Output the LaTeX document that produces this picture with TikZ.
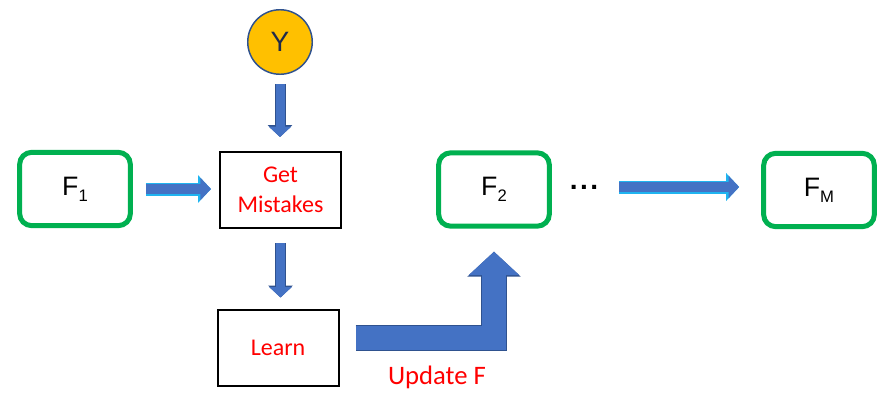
\documentclass[tikz,border=0pt]{standalone}
\usepackage{fontspec}
\setmainfont{Liberation Sans}
\newfontfamily\calibri{Carlito}
\usepackage{tikz}
\usetikzlibrary{positioning, calc, arrows.meta}

\definecolor{boxgreen}{HTML}{00B050}
\definecolor{mistred}{HTML}{FF0000}
\definecolor{flowblue}{HTML}{4472C4}
\definecolor{flowdark}{HTML}{2F528F}
\definecolor{flowcyan}{HTML}{1FB4F0}
\definecolor{ygold}{HTML}{FFC000}
\definecolor{ynavy}{HTML}{1F2A4A}

\newcommand{\modelsub}[1]{\raisebox{-4.5pt}{\fontsize{12.5}{14}\selectfont #1}}

\tikzset{
  modelbox/.style={draw=boxgreen, line width=3.75pt, rounded corners=9pt,
    minimum width=83pt, minimum height=55pt, font=\fontsize{20}{24}\selectfont},
  stepbox/.style={draw=black, line width=1.5pt, minimum width=90.75pt,
    minimum height=57pt, align=center, text=mistred,
    font=\calibri\fontsize{18}{22.5}\selectfont},
  target/.style={circle, fill=ygold, draw=flowdark, line width=1.1pt,
    minimum size=48.4pt, inner sep=0pt, text=ynavy, font=\fontsize{21}{25}\selectfont},
  sideflow/.style={draw=flowblue, line width=7pt, -{Triangle[width=16.5pt,length=8pt]},
    preaction={draw=flowcyan, line width=9.75pt, -{Triangle[width=20.25pt,length=9.75pt]}}},
  downflow/.style={draw=flowblue, line width=6.75pt, -{Triangle[width=16.5pt,length=7.75pt]},
    preaction={draw=flowdark, line width=8.25pt, -{Triangle[width=18pt,length=9pt]}}},
  bentflow/.style={draw=flowblue, line width=18pt, -{Triangle[width=36.75pt,length=17.5pt]},
    preaction={draw=flowdark, line width=19.5pt, -{Triangle[width=39pt,length=18.75pt]}}},
}

\begin{document}
\begin{tikzpicture}[x=0.75pt, y=-0.75pt]
    \useasboundingbox (0,0) rectangle (891,408);

    % models and steps
    \node[modelbox] (f1) at (75,189) {F\modelsub{1}};
    \node[stepbox] (gm) at (280.5,190) {Get\\Mistakes};
    \node[stepbox] (learn) at (278,347.5) {Learn};
    \node[target] (y) at (280,42) {Y};
    \node[modelbox] (f2) at (494,189.5) {F\modelsub{2}};
    \node[inner sep=0pt, font=\bfseries\fontsize{21}{25}\selectfont] (dots) at (584,187) {.\hspace{1.9pt}.\hspace{1.9pt}.};
    \node[modelbox] (fm) at (819,190) {F\modelsub{M}};
    \node[text=mistred, font=\calibri\fontsize{20}{24}\selectfont] (upd) at (437,377) {Update F};

    % block arrows
    \draw[sideflow, shorten <=9.75pt, shorten >=6pt] (f1.east) -- (f1.east -| gm.west);
    \draw[downflow, shorten <=6.75pt, shorten >=10.5pt] (y.south) -- (y.south |- gm.north);
    \draw[downflow, shorten <=10.5pt, shorten >=8.25pt] (gm.south) -- (gm.south |- learn.north);
    \draw[sideflow, shorten <=15.5pt, shorten >=16.5pt] (dots.east) -- (dots.east -| fm.west);

    % update goes back up to the next model
    \draw[bentflow] ($(learn.east)+(16,-10)$) -| ($(f2.south)+(0,23)$);
\end{tikzpicture}
\end{document}
